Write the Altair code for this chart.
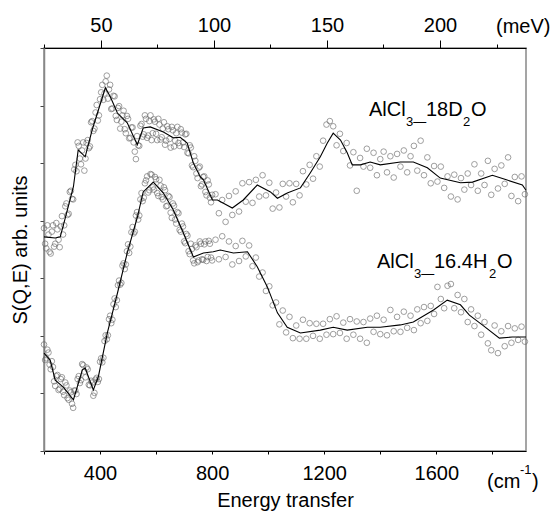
import altair as alt
import pandas as pd

FONT = "Liberation Sans"

# ---------------- data ----------------
# energy grid of the measured points (cm^-1)
scatter_x = [
    200, 208, 216, 224, 232, 240, 248, 256, 264, 272,
    280, 288, 296, 304, 312, 320, 328, 336, 344, 352,
    360, 368, 376, 384, 392, 400, 408, 416, 424, 432,
    440, 448, 456, 464, 472, 480, 488, 496, 504, 512,
    520, 528, 536, 544, 552, 560, 568, 576, 584, 592,
    600, 608, 616, 624, 632, 640, 648, 656, 664, 672,
    680, 688, 696, 704, 712, 720, 728, 736, 744, 752,
    760, 768, 776, 784, 792, 800,
    812, 824, 836, 848, 860, 872, 884, 896, 908, 920,
    932, 944, 956, 968, 980, 992, 1004, 1016, 1028, 1040,
    1052, 1064, 1076, 1088, 1100, 1112, 1124, 1136, 1148, 1160,
    1172, 1184, 1196, 1208, 1220, 1232, 1244, 1256, 1268, 1280,
    1292, 1304, 1316, 1328, 1340, 1352, 1364, 1376, 1388, 1400,
    1412, 1424, 1436, 1448, 1460, 1472, 1484, 1496, 1508, 1520,
    1532, 1544, 1556, 1568, 1580, 1592, 1604, 1616, 1628, 1640,
    1652, 1664, 1676, 1688, 1700, 1712, 1724, 1736, 1748, 1760,
    1772, 1784, 1796, 1808, 1820, 1832, 1844, 1856, 1868, 1880,
    1892, 1904, 1916,
]

# AlCl3-18D2O measured points
d2o_points = [
    3.87, 3.52, 3.76, 3.43, 3.92, 3.60, 3.85, 3.54, 4.08, 3.92,
    4.30, 4.12, 4.52, 4.37, 4.97, 5.36, 5.08, 5.22, 4.87, 5.35,
    5.26, 5.71, 5.56, 5.88, 5.74, 6.11, 6.36, 6.21, 6.52, 6.28,
    5.94, 6.17, 5.82, 5.96, 5.60, 5.83, 5.59, 5.82, 5.43, 5.62,
    5.36, 5.07, 5.31, 5.65, 5.46, 5.83, 5.44, 5.73, 5.40, 5.76,
    5.51, 5.77, 5.41, 5.60, 5.32, 5.64, 5.42, 5.63, 5.29, 5.52,
    5.35, 5.59, 5.36, 5.50, 5.18, 5.31, 4.96, 5.12, 4.82, 4.92,
    4.60, 4.76, 4.50, 4.70, 4.40, 4.45,
    4.46, 4.13, 4.36, 3.98, 4.43, 4.10, 4.51, 4.16, 4.65, 4.33,
    4.67, 4.31, 4.71, 4.42, 4.79, 4.44, 4.66, 4.21, 4.49, 4.23,
    4.64, 4.42, 4.65, 4.32, 4.64, 4.44, 4.86, 4.63, 4.97, 4.73,
    5.12, 4.94, 5.39, 5.67, 5.73, 5.64, 5.31, 5.51, 5.21, 5.35,
    4.96, 5.19, 4.52, 5.09, 4.94, 5.25, 4.92, 5.18, 4.79, 5.07,
    5.20, 4.84, 5.12, 4.75, 5.16, 4.94, 5.22, 4.84, 5.12, 5.30,
    4.87, 5.39, 4.79, 5.10, 4.65, 4.95, 4.68, 4.94, 4.57, 4.77,
    4.42, 4.80, 4.37, 4.74, 4.54, 4.82, 4.62, 4.98, 4.52, 4.82,
    4.62, 5.04, 4.45, 4.90, 4.56, 4.96, 4.64, 5.10, 4.43, 4.76,
    4.34, 4.77, 4.46,
]

# AlCl3-16.4H2O measured points
h2o_points = [
    1.85, 1.61, 1.71, 1.42, 1.46, 1.13, 1.32, 1.08, 1.28, 0.97,
    1.14, 0.89, 1.02, 0.75, 1.05, 1.25, 1.18, 1.51, 1.38, 1.45,
    1.15, 1.22, 0.96, 1.24, 1.20, 1.55, 1.54, 1.91, 1.94, 2.29,
    2.22, 2.55, 2.50, 2.88, 2.89, 3.22, 3.16, 3.47, 3.44, 3.80,
    3.78, 4.09, 4.02, 4.37, 4.34, 4.65, 4.77, 4.53, 4.80, 4.54,
    4.72, 4.43, 4.61, 4.37, 4.53, 4.26, 4.41, 4.05, 4.26, 3.95,
    4.13, 3.81, 3.90, 3.61, 3.74, 3.42, 3.51, 3.26, 3.54, 3.31,
    3.60, 3.32, 3.64, 3.37, 3.60, 3.31,
    3.67, 3.33, 3.73, 3.37, 3.64, 3.24, 3.56, 3.30, 3.65, 3.38,
    3.57, 3.21, 3.36, 3.03, 3.10, 2.78, 2.86, 2.53, 2.58, 2.20,
    2.44, 2.06, 2.33, 1.96, 2.18, 1.95, 2.28, 1.95, 2.22, 2.00,
    2.21, 1.95, 2.21, 2.02, 2.29, 2.03, 2.34, 2.05, 2.23, 1.95,
    2.29, 2.02, 2.25, 1.95, 2.24, 1.88, 2.30, 2.07, 2.35, 2.03,
    2.28, 2.01, 2.45, 2.08, 2.33, 2.07, 2.42, 2.14, 2.35, 2.10,
    2.46, 2.22, 2.50, 2.26, 2.52, 2.38, 2.85, 2.64, 2.48, 2.87,
    2.90, 2.48, 2.71, 2.41, 2.64, 2.24, 2.46, 2.17, 2.35, 2.02,
    2.24, 1.87, 1.75, 2.18, 1.70, 2.08, 1.82, 2.17, 1.88, 2.13,
    1.93, 2.16, 1.90,
]

# the finer low-energy bins in between (cm^-1)
scatter_x_fine = [
    204, 212, 220, 228, 236, 244, 252, 260, 268, 276,
    284, 292, 300, 308, 316, 324, 332, 340, 348, 356,
    364, 372, 380, 388, 396, 404, 412, 420, 428, 436,
    444, 452, 460, 468, 476, 484, 492, 500, 508, 516,
    524, 532, 540, 548, 556, 564, 572, 580, 588, 596,
    604, 612, 620, 628, 636, 644, 652, 660, 668, 676,
    684, 692, 700, 708, 716, 724, 732, 740, 748, 756,
    764, 772, 780, 788, 796,
]
d2o_points_fine = [
    3.60, 3.92, 3.46, 3.81, 3.55, 3.96, 3.67, 3.90, 3.76, 4.25,
    4.10, 4.50, 4.38, 4.89, 4.86, 5.30, 4.98, 5.36, 5.08, 5.40,
    5.29, 5.73, 5.60, 6.01, 5.83, 6.23, 6.10, 6.42, 6.12, 6.36,
    5.95, 6.16, 5.75, 5.99, 5.72, 5.91, 5.52, 5.77, 5.44, 5.62,
    5.20, 5.47, 5.30, 5.68, 5.50, 5.77, 5.48, 5.83, 5.52, 5.72,
    5.40, 5.67, 5.45, 5.71, 5.39, 5.59, 5.27, 5.57, 5.39, 5.63,
    5.30, 5.53, 5.28, 5.51, 5.17, 5.27, 4.93, 5.04, 4.74, 4.94,
    4.63, 4.77, 4.44, 4.63, 4.32,
]
h2o_points_fine = [
    1.58, 1.76, 1.50, 1.56, 1.21, 1.30, 1.06, 1.25, 1.03, 1.19,
    0.92, 1.05, 0.82, 1.05, 0.99, 1.30, 1.23, 1.49, 1.28, 1.42,
    1.14, 1.19, 1.01, 1.27, 1.25, 1.61, 1.62, 2.01, 2.01, 2.35,
    2.28, 2.65, 2.62, 2.96, 2.92, 3.26, 3.24, 3.59, 3.55, 3.89,
    3.81, 4.15, 4.09, 4.48, 4.40, 4.70, 4.49, 4.81, 4.58, 4.76,
    4.48, 4.71, 4.41, 4.58, 4.25, 4.43, 4.14, 4.30, 4.02, 4.15,
    3.84, 3.95, 3.64, 3.77, 3.47, 3.60, 3.31, 3.57, 3.28, 3.64,
    3.33, 3.59, 3.30, 3.65, 3.36,
]

# smoothed curves
d2o_line_x = [200, 240, 258, 276, 305, 322, 347, 372, 419, 437, 462, 497, 533, 554,
              579, 626, 661, 686, 711, 733, 758, 769, 801, 819, 872, 911, 961, 1008,
              1033, 1068, 1115, 1150, 1186, 1211, 1232, 1258, 1282, 1300, 1329, 1364,
              1400, 1472, 1518, 1568, 1614, 1686, 1729, 1800, 1850, 1907, 1920]
d2o_line_y = [3.72, 3.70, 3.72, 4.05, 4.59, 5.23, 5.11, 5.58, 6.31, 6.15, 5.87, 5.70, 5.32, 5.61,
              5.63, 5.54, 5.44, 5.45, 5.35, 5.00, 4.76, 4.71, 4.36, 4.36, 4.22, 4.36, 4.62, 4.50,
              4.39, 4.48, 4.57, 4.83, 5.11, 5.35, 5.52, 5.40, 5.18, 4.97, 4.97, 5.02,
              4.97, 5.02, 5.02, 4.92, 4.74, 4.66, 4.67, 4.79, 4.71, 4.62, 4.53]

h2o_line_x = [200, 222, 240, 269, 305, 337, 347, 376, 394, 426, 462, 497, 533, 554, 590,
              626, 661, 697, 733, 769, 804, 829, 876, 926, 961, 997, 1033, 1068, 1115,
              1186, 1232, 1282, 1354, 1400, 1472, 1518, 1590, 1639, 1686, 1718, 1764,
              1825, 1871, 1920]
h2o_line_y = [1.70, 1.58, 1.23, 1.11, 0.89, 1.41, 1.44, 1.06, 1.29, 2.05, 2.74, 3.44, 4.06, 4.50, 4.67,
              4.48, 4.19, 3.79, 3.37, 3.44, 3.46, 3.49, 3.44, 3.46, 3.20, 2.85, 2.40, 2.15, 2.05,
              2.10, 2.15, 2.10, 2.15, 2.15, 2.19, 2.24, 2.45, 2.62, 2.54, 2.36, 2.19,
              1.96, 1.98, 1.98]

bottom_ticks = [200, 400, 600, 800, 1000, 1200, 1400, 1600, 1800]
top_ticks_mev = [25, 50, 75, 100, 125, 150, 175, 200, 225]
y_ticks = [0, 1, 2, 3, 4, 5, 6, 7]
X_MIN, X_MAX = 200, 1920
CM_PER_MEV = 8.0655

# ---------------- tables ----------------
all_x = scatter_x + scatter_x_fine
pts = pd.DataFrame({
    "x": all_x + all_x,
    "y": d2o_points + d2o_points_fine + h2o_points + h2o_points_fine,
    "s": ["d2o"] * len(all_x) + ["h2o"] * len(all_x),
})
lines = pd.DataFrame({
    "x": d2o_line_x + h2o_line_x,
    "y": d2o_line_y + h2o_line_y,
    "s": ["d2o"] * len(d2o_line_x) + ["h2o"] * len(h2o_line_x),
})

W, H = 482, 403

xs = alt.Scale(domain=[X_MIN, X_MAX], nice=False, zero=False)
ys = alt.Scale(domain=[0, 7], nice=False, zero=False)

x_axis = alt.Axis(
    values=bottom_ticks, format="d",
    labelExpr="datum.value % 400 == 0 ? datum.label : ''",
    tickSize=3, labelPadding=9, labelFontSize=20, labelFont=FONT, labelColor="black",
    title="Energy transfer", titleFont=FONT, titleFontSize=20, titleFontWeight="normal",
    titlePadding=7, titleColor="black", domainColor="black", tickColor="black", grid=False,
)
y_axis = alt.Axis(
    values=y_ticks, labels=False, tickSize=4, tickColor="#444",
    title="S(Q,E) arb. units", titleFont=FONT, titleFontSize=20, titleFontWeight="normal",
    titlePadding=9, titleColor="black", domainColor="#888", domainWidth=1.5, grid=False,
)

scatter = alt.Chart(pts).mark_point(
    shape="circle", filled=False, size=32, color="#666666", strokeWidth=0.9
).encode(
    x=alt.X("x:Q", scale=xs, axis=x_axis),
    y=alt.Y("y:Q", scale=ys, axis=y_axis),
    detail="s:N",
)
curve = alt.Chart(lines).mark_line(color="black", strokeWidth=1.1).encode(
    x=alt.X("x:Q", scale=xs),
    y=alt.Y("y:Q", scale=ys),
    detail="s:N",
)
main = alt.layer(scatter, curve)

top = alt.Chart(pd.DataFrame({"mev": top_ticks_mev})).mark_tick(opacity=0).encode(
    x=alt.X(
        "mev:Q",
        scale=alt.Scale(domain=[X_MIN / CM_PER_MEV, X_MAX / CM_PER_MEV], nice=False, zero=False),
        axis=alt.Axis(
            orient="top", values=top_ticks_mev, title=None,
            labelExpr="datum.value % 50 == 0 ? datum.label : ''",
            tickSize={"condition": {"test": "datum.value % 50 == 0", "value": 8}, "value": 4},
            labelPadding=5, labelFontSize=20, labelFont=FONT, labelColor="black",
            domainColor="black", tickColor="black", grid=False,
        ),
    )
)


def txt(s, x, y, size):
    return alt.Chart(pd.DataFrame({"t": [s]})).mark_text(
        align="left", baseline="alphabetic", font=FONT, fontSize=size, color="black"
    ).encode(x=alt.value(x), y=alt.value(y), text="t:N")


labels = [
    # AlCl3-18D2O
    txt("AlCl", 325, 68, 20), txt("3\u2014", 362, 78, 13), txt("18D", 382, 68, 20),
    txt("2", 419, 78, 13), txt("O", 427, 68, 20),
    # AlCl3-16.4H2O
    txt("AlCl", 333, 220, 20), txt("3\u2014", 370, 230, 13), txt("16.4H", 390, 220, 20),
    txt("2", 445, 230, 13), txt("O", 453, 220, 20),
    # units
    txt("(cm", 443, 440, 20), txt("-1", 476, 426, 13), txt(")", 488, 440, 20),
    txt("(meV)", 452, -15, 20),
]

chart = alt.layer(main, top, *labels).resolve_scale(x="independent").properties(
    width=W, height=H,
    padding={"left": 44, "top": 48, "right": 26, "bottom": 64},
    autosize="none",
    background="white",
).configure_view(stroke="#888", strokeWidth=1.5)

chart.save("out.html", embed_options={"renderer": "svg", "actions": False})
